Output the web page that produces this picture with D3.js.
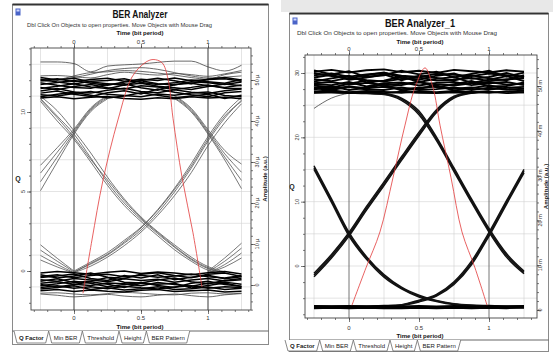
<!DOCTYPE html>
<html><head><meta charset="utf-8">
<script src="https://cdn.jsdelivr.net/npm/d3@7"></script>
<style>body{margin:0;background:#fff;}svg{display:block;font-family:"Liberation Sans",Arial,sans-serif;}</style>
</head><body><svg id="c" width="553" height="355"></svg>
<script>
// ---------------- DATA ----------------
const timeGrid = [-0.25,-0.125,0,0.125,0.25,0.375,0.5,0.625,0.75,0.875,1,1.125,1.25];
const timeTicks = [0,0.5,1];
const timeTickLabels = ["0","0.5","1"];
const tabNames = ["Q Factor","Min BER","Threshold","Height","BER Pattern"];
const titleLeft = "BER Analyzer";
const titleRight = "BER Analyzer_1";
const hintText = "Dbl Click On Objects to open properties.  Move Objects with Mouse Drag";
const timeTitle = "Time (bit period)";
const ampTitle = "Amplitude (a.u.)";
const ampTicks = [0,10,20,30,40,50];
const ampTickLabelsLeft = ["0","10 \u00b5","20 \u00b5","30 \u00b5","40 \u00b5","50 \u00b5"];
const ampTickLabelsRight = ["0","10 m","20 m","30 m","40 m","50 m"];
const qTicksLeft = [0,5,10];
const qTicksRight = [0,10,20,30];

// Left analyzer: "one" rail traces (amplitude, µ a.u.)
const leftTop1 = [49.8,50.3,49.6,50.1,50.4,49.7,50.2,49.9,50.5,49.8,50.1,50.3,49.7];
const leftTop2 = [48.9,49.4,49.9,49.2,48.7,49.5,49.8,49.1,48.8,49.6,49.3,48.9,49.5];
const leftTop3 = [48.2,47.6,48.4,48.9,48.1,47.8,48.6,48.3,47.7,48.2,48.8,48.0,47.9];
const leftTop4 = [47.3,47.9,47.1,46.8,47.5,48.0,47.2,46.9,47.6,47.0,46.7,47.4,47.8];
const leftTop5 = [46.4,46.1,46.7,47.2,46.5,46.2,45.9,46.6,46.3,46.8,47.1,46.2,45.9];
const leftTop6 = [45.6,45.9,45.4,45.8,46.0,45.5,45.3,45.7,45.4,45.9,45.6,45.8,45.4];
const leftTop7 = [50.2,49.5,49.0,49.7,49.9,50.3,49.4,48.9,49.3,50.0,49.6,49.2,50.1];
const leftTop8 = [47.9,48.5,49.1,48.3,47.9,48.8,49.2,48.5,48.1,47.7,48.4,49.0,48.6];
const leftTop9 = [46.8,47.3,46.5,46.0,46.9,47.4,46.6,47.8,47.0,46.4,45.9,46.9,47.2];
const leftTop10 = [49.3,48.7,48.2,48.0,48.9,49.1,48.1,47.5,48.9,49.2,48.6,48.2,48.8];
const leftTop11 = [45.9,46.5,47.0,46.3,45.6,46.1,46.9,46.3,45.7,46.1,46.5,45.5,46.3];
const leftTop12 = [50.6,50.0,50.4,49.5,49.1,48.7,49.9,50.4,49.8,49.1,50.2,50.6,50.0];
// Left: traces above the "one" rail
const leftUpper1 = [54.4,54.4,54.0,52.0,53.4,53.7,53.9,54.3,54.6,54.6,53.2,52.2,53.6];
const leftUpper2 = [50.0,50.2,50.6,51.4,52.3,52.8,53.0,52.6,51.8,51.0,50.5,50.7,51.0];
const leftUpper3 = [49.5,50.0,51.0,51.8,52.0,52.3,52.1,51.7,51.2,50.6,50.2,51.3,51.9];
const leftUpper4 = [51.0,51.1,50.8,50.5,51.3,51.9,51.5,51.2,51.6,51.3,50.9,51.5,52.3];
// Left: "zero" rail traces
const leftBot1 = [2.9,3.3,3.0,2.6,3.1,3.4,2.8,3.2,2.9,2.5,3.0,3.3,2.7];
const leftBot2 = [2.1,2.5,1.8,2.3,2.6,2.0,2.4,1.9,2.2,2.7,2.0,1.7,2.3];
const leftBot3 = [1.3,0.9,1.6,1.2,0.8,1.5,1.1,1.4,0.7,1.2,1.6,1.0,1.3];
const leftBot4 = [0.4,0.8,0.2,-0.1,0.5,0.3,-0.2,0.6,0.1,-0.3,0.4,0.7,0.2];
const leftBot5 = [-0.6,-0.2,-0.8,-0.4,-0.9,-0.3,-0.7,-1.0,-0.5,-0.2,-0.8,-0.4,-0.6];
const leftBot6 = [-1.4,-1.1,-1.6,-1.2,-1.5,-1.7,-1.3,-1.1,-1.6,-1.4,-1.2,-1.7,-1.5];
const leftBot7 = [2.5,1.7,2.2,2.9,1.9,1.6,2.6,3.0,2.3,1.8,2.6,2.9,2.1];
const leftBot8 = [0.9,1.5,0.6,0.9,1.8,0.7,0.5,1.2,1.7,0.8,0.3,1.1,1.6];
const leftBot9 = [-0.2,0.3,0.9,0.4,-0.4,0.1,0.6,-0.1,-0.6,0.4,0.9,0.1,-0.3];
const leftBot10 = [-1.0,-0.6,-0.2,-1.1,-0.7,-1.2,-0.9,-0.4,-1.1,-0.9,-0.5,-1.1,-0.8];
const leftBot11 = [1.8,2.2,2.7,1.6,1.1,2.3,1.7,2.5,1.3,1.9,2.4,1.5,2.0];
const leftBot12 = [0.1,-0.5,0.1,0.8,0.2,-0.6,0.4,0.2,0.4,-0.7,-0.1,0.5,-0.4];
const leftLower1 = [-2.2,-2.5,-2.9,-2.6,-2.3,-2.7,-2.9,-2.5,-2.2,-2.6,-2.9,-2.4,-2.1];
const leftLower2 = [-2.0,-1.9,-2.2,-2.4,-2.1,-1.8,-2.0,-2.3,-2.4,-2.0,-1.9,-2.2,-2.0];
// Left: transitions (null = not drawn)
const leftFallA = [45.5,41.2,36.8,31.0,25.0,20.0,16.0,12.5,9.2,6.2,4.0,3.0,null];
const leftFallB = [44.8,40.0,35.5,30.0,24.3,19.4,15.5,12.0,8.6,5.8,3.6,2.8,null];
const leftFallC = [46.0,42.5,37.6,32.2,26.3,21.0,16.6,13.0,9.8,6.8,4.5,3.2,null];
const leftFallD = [45.2,40.8,36.0,30.6,25.6,20.6,16.3,12.8,9.4,6.4,4.2,3.0,null];
const leftRiseA = [null,null,3.2,5.1,7.3,10.2,13.4,17.6,22.7,28.5,35.1,40.7,45.1];
const leftRiseB = [null,null,3.0,4.6,6.8,9.6,12.9,17.0,21.8,27.4,34.0,39.6,44.2];
const leftRiseC = [null,null,3.4,5.6,7.9,10.9,14.1,18.4,23.6,29.6,36.2,41.8,45.8];
const leftRiseD = [null,null,3.1,5.3,7.5,10.5,13.9,18.2,23.3,29.0,35.6,41.2,44.8];
const leftEarlyRiseA = [23.0,30.0,36.8,42.3,45.4,null,null,null,null,null,null,null,null];
const leftEarlyRiseB = [25.2,31.2,37.2,42.6,45.7,null,null,null,null,null,null,null,null];
const leftEarlyRiseC = [27.3,32.4,37.6,42.9,46.0,null,null,null,null,null,null,null,null];
const leftEarlyRiseD = [29.2,33.5,38.0,43.2,46.2,null,null,null,null,null,null,null,null];
const leftLateFallA = [null,null,null,null,null,null,null,null,45.5,42.2,36.8,30.5,23.5];
const leftLateFallB = [null,null,null,null,null,null,null,null,45.7,42.5,37.1,31.2,25.5];
const leftLateFallC = [null,null,null,null,null,null,null,null,46.0,42.8,37.5,32.0,27.5];
const leftLateFallD = [null,null,null,null,null,null,null,null,46.2,43.1,37.9,32.8,29.5];
const leftTailFallA = [9.8,6.5,3.4,null,null,null,null,null,null,null,null,null,null];
const leftTailFallB = [8.5,5.8,3.2,null,null,null,null,null,null,null,null,null,null];
const leftTailFallC = [7.2,5.0,3.0,null,null,null,null,null,null,null,null,null,null];
const leftTailFallD = [6.1,4.4,2.9,null,null,null,null,null,null,null,null,null,null];
const leftTailRiseA = [null,null,null,null,null,null,null,null,null,null,3.4,6.6,10.2];
const leftTailRiseB = [null,null,null,null,null,null,null,null,null,null,3.2,5.8,9.0];
const leftTailRiseC = [null,null,null,null,null,null,null,null,null,null,3.0,5.0,7.8];
const leftTailRiseD = [null,null,null,null,null,null,null,null,null,null,2.9,4.4,6.6];
// Left Q factor curve
const leftQTime = [0.067,0.134,0.216,0.328,0.433,0.53,0.59,0.657,0.701,0.739,0.806,0.888,0.955];
const leftQValue = [-1.4,1.95,5.7,9.5,12.2,13.1,13.3,13.1,12.1,9.6,5.9,2.4,-1.0];

// Right analyzer: "one" rail (m a.u.)
const rightTop1 = [53.2,53.6,53.0,53.5,53.7,53.1,53.4,52.9,53.6,53.3,53.0,53.5,53.2];
const rightTop2 = [52.4,52.8,52.1,52.6,52.9,52.3,52.0,52.7,52.5,52.2,52.8,52.4,52.0];
const rightTop3 = [51.5,51.1,51.8,51.3,51.0,51.6,51.9,51.2,51.4,51.8,51.1,51.5,51.7];
const rightTop4 = [50.6,50.9,50.3,50.7,50.2,50.5,50.8,50.4,50.1,50.6,50.9,50.3,50.5];
const rightTop5 = [49.7,49.4,49.9,49.5,49.8,49.3,49.6,49.9,49.4,49.7,49.2,49.6,49.8];
const rightTop6 = [48.8,49.0,48.6,48.9,48.7,48.5,48.8,48.6,48.9,48.7,48.5,48.8,48.6];
const rightTop7 = [52.9,52.2,51.7,52.4,53.0,51.8,51.4,52.3,52.8,51.6,52.0,52.9,51.9];
const rightTop8 = [51.0,51.7,52.3,50.8,51.2,52.1,50.9,51.6,52.0,50.7,51.4,52.2,51.1];
const rightTop9 = [50.1,49.6,50.5,51.2,49.8,50.2,51.0,49.7,50.4,51.1,49.9,50.0,50.8];
const rightTop10 = [49.2,50.0,49.1,49.6,50.3,49.0,49.4,50.1,49.0,49.5,50.2,49.3,49.0];
const rightTop11 = [53.5,52.6,53.3,52.0,52.4,53.4,52.6,53.2,51.9,52.7,53.4,52.1,53.0];
const rightTop12 = [48.5,48.7,48.4,48.6,48.4,48.7,48.5,48.4,48.6,48.5,48.7,48.4,48.6];
const rightTop13 = [51.9,52.5,51.4,51.9,52.6,51.3,52.3,51.8,51.2,52.4,51.7,51.3,52.4];
const rightTop14 = [50.4,50.2,50.9,49.9,50.6,50.8,50.1,50.7,50.9,50.2,50.6,50.9,50.2];
const rightTop15 = [49.5,49.1,49.8,49.2,49.1,49.7,49.1,49.3,49.7,49.1,49.6,49.2,49.4];
const rightBot1 = [0.9,0.8,0.9,0.8,0.9,0.8,0.9,0.8,0.9,0.8,0.9,0.8,0.9];
const rightBot2 = [0.6,0.7,0.6,0.6,0.7,0.6,0.7,0.6,0.6,0.7,0.6,0.7,0.6];
const rightBot3 = [0.4,0.5,0.4,0.5,0.4,0.4,0.5,0.4,0.5,0.4,0.5,0.4,0.5];
// Right: transitions
const rightRiseEarlyA = [7.8,12.0,16.9,22.7,28.2,33.8,39.3,44.4,47.5,48.5,48.8,null,null];
const rightRiseEarlyB = [7.4,11.6,16.5,22.3,27.8,33.4,38.9,44.1,47.3,48.4,48.7,null,null];
const rightRiseEarlyC = [8.2,12.4,17.3,23.1,28.6,34.2,39.7,44.7,47.7,48.6,48.9,null,null];
const rightFallLateA = [48.6,48.6,48.5,48.4,48.2,47.1,44.0,38.2,31.3,24.4,17.8,12.2,8.4];
const rightFallLateB = [48.5,48.5,48.4,48.3,48.1,46.8,43.6,37.8,30.9,24.0,17.4,11.8,8.1];
const rightFallLateC = [48.7,48.7,48.6,48.5,48.3,47.3,44.4,38.6,31.7,24.8,18.2,12.6,8.7];
const rightFallEarlyA = [31.8,24.4,16.9,11.6,7.6,4.9,3.1,2.0,1.3,1.0,0.9,0.8,0.8];
const rightFallEarlyB = [31.4,24.0,16.5,11.3,7.3,4.7,2.9,1.9,1.2,0.9,0.8,0.7,0.7];
const rightFallEarlyC = [32.2,24.8,17.3,11.9,7.9,5.1,3.3,2.1,1.4,1.1,1.0,0.9,0.9];
const rightRiseLateA = [0.8,0.8,0.8,0.8,0.9,1.1,2.0,3.3,6.0,10.5,16.9,24.0,31.0];
const rightRiseLateB = [0.7,0.7,0.7,0.7,0.8,1.0,1.8,3.1,5.7,10.1,16.5,23.6,30.6];
const rightRiseLateC = [0.9,0.9,0.9,0.9,1.0,1.2,2.2,3.5,6.3,10.9,17.3,24.4,31.4];
const rightSettle = [45.0,47.3,48.4,null,null,null,null,null,null,null,null,null,null];
// Right Q factor curve
const rightQTime = [0.021,0.121,0.221,0.314,0.4,0.471,0.543,0.6,0.65,0.729,0.807,0.9,0.986];
const rightQValue = [-6.1,-0.3,5.3,13.7,21.9,27.7,30.8,27.7,21.9,13.7,5.3,-0.3,-6.1];

// ---------------- DRAWING ----------------
const svg = d3.select("#c");
svg.append("rect").attr("width",553).attr("height",355).attr("fill","#fff");
svg.append("rect").attr("x",281).attr("y",0).attr("width",272).attr("height",12).attr("fill","#e8e8e8");

const leftPanel = {
  id:"L", fx:12.5, fy:4.5, fw:256, fh:340, px0:31, px1:251, py0:48, py1:310,
  t0x:74, t1x:208, a0y:285, a50y:80, q0y:271, qTopY:112, qTicks:qTicksLeft, qMinorStep:1, qGridStart:-1,
  title:titleLeft, titleW:55, cx:140, titleY:18, subX:27, subW:185, subY:27, timeTopY:35, tickTopY:44,
  tickBotY:320, timeBotY:329, tabTop:331, tabBot:343, tabX0:15,
  qLabelX:18, qTickLabelX:25, aTickLabelX:259, aTitleX:267, ampLabels:ampTickLabelsLeft,
  rails:[leftTop1,leftTop2,leftTop3,leftTop4,leftTop5,leftTop6,leftTop7,leftTop8,leftTop9,leftTop10,leftTop11,leftTop12,
         leftBot1,leftBot2,leftBot3,leftBot4,leftBot5,leftBot6,leftBot7,leftBot8,leftBot9,leftBot10,leftBot11,leftBot12],
  railW:1.5,
  faint:[leftUpper1,leftUpper2,leftUpper3,leftUpper4,leftLower1,leftLower2],
  trans:[leftFallA,leftFallB,leftFallC,leftFallD,leftRiseA,leftRiseB,leftRiseC,leftRiseD,
         leftEarlyRiseA,leftEarlyRiseB,leftEarlyRiseC,leftEarlyRiseD,leftLateFallA,leftLateFallB,leftLateFallC,leftLateFallD,
         leftTailFallA,leftTailFallB,leftTailFallC,leftTailFallD,leftTailRiseA,leftTailRiseB,leftTailRiseC,leftTailRiseD],
  transW:0.8, transColor:"#555",
  qTime:leftQTime, qVal:leftQValue, markerColor:"#222"
};
const rightPanel = {
  id:"R", fx:289.5, fy:13.5, fw:259, fh:338, px0:305, px1:537, py0:55, py1:318,
  t0x:349, t1x:489, a0y:310, a50y:86, q0y:266, qTopY:73, qTicks:qTicksRight, qMinorStep:2.5, qGridStart:-5,
  title:titleRight, titleW:70, cx:420, titleY:27, subX:297, subW:200, subY:35, timeTopY:44, tickTopY:51,
  tickBotY:330, timeBotY:338, tabTop:340, tabBot:351, tabX0:286,
  qLabelX:292, qTickLabelX:299, aTickLabelX:542, aTitleX:548, ampLabels:ampTickLabelsRight,
  rails:[rightTop1,rightTop2,rightTop3,rightTop4,rightTop5,rightTop6,rightTop7,rightTop8,rightTop9,rightTop10,rightTop11,rightTop12,
         rightTop13,rightTop14,rightTop15,rightBot1,rightBot2,rightBot3],
  railW:1.9,
  faint:[rightSettle],
  trans:[rightRiseEarlyA,rightRiseEarlyB,rightRiseEarlyC,rightFallLateA,rightFallLateB,rightFallLateC,
         rightFallEarlyA,rightFallEarlyB,rightFallEarlyC,rightRiseLateA,rightRiseLateB,rightRiseLateC],
  transW:1.5, transColor:"#111",
  qTime:rightQTime, qVal:rightQValue, markerColor:"#666"
};

function drawPanel(p){
  const g = svg.append("g");
  g.append("rect").attr("x",p.fx).attr("y",p.fy).attr("width",p.fw).attr("height",p.fh)
    .attr("fill","#fff").attr("stroke","#8a8a8a").attr("stroke-width",1);
  g.append("line").attr("x1",p.fx).attr("x2",p.fx+p.fw).attr("y1",p.fy).attr("y2",p.fy)
    .attr("stroke","#333").attr("stroke-width",2);
  g.append("rect").attr("x",p.fx+3).attr("y",p.fy+4).attr("width",5).attr("height",7).attr("fill","#4a64c8");
  g.append("rect").attr("x",p.fx+4).attr("y",p.fy+5).attr("width",3).attr("height",2).attr("fill","#cfd8ff");

  g.append("text").attr("x",p.cx).attr("y",p.titleY).attr("text-anchor","middle")
    .attr("font-size",10.5).attr("font-weight","bold").attr("fill","#111")
    .attr("textLength",p.titleW).attr("lengthAdjust","spacingAndGlyphs").text(p.title);
  g.append("text").attr("x",p.subX).attr("y",p.subY).attr("font-size",5.6).attr("fill","#333")
    .attr("textLength",p.subW).attr("lengthAdjust","spacingAndGlyphs").text(hintText);
  g.append("text").attr("x",p.cx).attr("y",p.timeTopY).attr("text-anchor","middle")
    .attr("font-size",6).attr("font-weight","bold").attr("fill","#111").text(timeTitle);
  g.append("text").attr("x",p.cx).attr("y",p.timeBotY).attr("text-anchor","middle")
    .attr("font-size",6).attr("font-weight","bold").attr("fill","#111").text(timeTitle);

  const x = d3.scaleLinear().domain([0,1]).range([p.t0x,p.t1x]);
  const yA = d3.scaleLinear().domain([0,50]).range([p.a0y,p.a50y]);
  const qLo = p.qTicks[0], qHi = p.qTicks[p.qTicks.length-1];
  const yQ = d3.scaleLinear().domain([qLo,qHi]).range([p.q0y,p.qTopY]);
  const tLo = x.invert(p.px0), tHi = x.invert(p.px1);
  const qBot = yQ.invert(p.py1), qTop = yQ.invert(p.py0);
  const aBot = yA.invert(p.py1), aTop = yA.invert(p.py0);

  const clipId = "clip"+p.id;
  g.append("clipPath").attr("id",clipId).append("rect")
    .attr("x",p.px0).attr("y",p.py0).attr("width",p.px1-p.px0).attr("height",p.py1-p.py0);

  const grid = g.append("g").attr("stroke","#d2d2d2").attr("stroke-width",0.6);
  d3.range(-0.25,1.26,0.25).filter(t=>Math.abs(t)>1e-6 && Math.abs(t-1)>1e-6).forEach(t=>{
    grid.append("line").attr("x1",x(t)).attr("x2",x(t)).attr("y1",p.py0).attr("y2",p.py1);
  });
  const qStep = p.qMinorStep*2;
  d3.range(p.qGridStart, qTop, qStep).filter(q=>q>qBot).forEach(q=>{
    grid.append("line").attr("x1",p.px0).attr("x2",p.px1).attr("y1",yQ(q)).attr("y2",yQ(q));
  });
  [0,1].forEach(t=>{
    g.append("line").attr("x1",x(t)).attr("x2",x(t)).attr("y1",p.py0).attr("y2",p.py1)
      .attr("stroke",p.markerColor).attr("stroke-width",0.9);
  });

  const plot = g.append("g").attr("clip-path",`url(#${clipId})`);
  const lineLin = d3.line().defined(d=>d[1]!==null).x(d=>x(d[0])).y(d=>yA(d[1]));
  const lineSm = d3.line().defined(d=>d[1]!==null).x(d=>x(d[0])).y(d=>yA(d[1])).curve(d3.curveMonotoneX);
  const pts = arr => timeGrid.map((t,i)=>[t,arr[i]]);

  p.faint.forEach(arr=>plot.append("path").attr("d",lineSm(pts(arr))).attr("fill","none")
    .attr("stroke","#444").attr("stroke-width",0.8));
  p.trans.forEach(arr=>plot.append("path").attr("d",lineSm(pts(arr))).attr("fill","none")
    .attr("stroke",p.transColor).attr("stroke-width",p.transW));
  p.rails.forEach(arr=>plot.append("path").attr("d",lineLin(pts(arr))).attr("fill","none")
    .attr("stroke","#000").attr("stroke-width",p.railW));

  const qLine = d3.line().x(d=>x(d[0])).y(d=>yQ(d[1])).curve(d3.curveCatmullRom);
  plot.append("path").attr("d",qLine(p.qTime.map((t,i)=>[t,p.qVal[i]]))).attr("fill","none")
    .attr("stroke","#e23a3a").attr("stroke-width",0.8);

  g.append("rect").attr("x",p.px0).attr("y",p.py0).attr("width",p.px1-p.px0).attr("height",p.py1-p.py0)
    .attr("fill","none").attr("stroke","#444").attr("stroke-width",0.9);

  const styleAxis = sel => { sel.select(".domain").remove(); sel.selectAll("line").attr("stroke","#444").attr("stroke-width",0.7); sel.selectAll("text").remove(); };
  const minorT = d3.range(-0.3,1.31,0.1).filter(t=>t>=tLo && t<=tHi);
  g.append("g").attr("transform",`translate(0,${p.py0})`).call(d3.axisTop(x).tickValues(minorT).tickSize(2)).call(styleAxis);
  g.append("g").attr("transform",`translate(0,${p.py1})`).call(d3.axisBottom(x).tickValues(minorT).tickSize(2)).call(styleAxis);
  g.append("g").attr("transform",`translate(0,${p.py0})`).call(d3.axisTop(x).tickValues(timeTicks).tickSize(4)).call(styleAxis);
  g.append("g").attr("transform",`translate(0,${p.py1})`).call(d3.axisBottom(x).tickValues(timeTicks).tickSize(4)).call(styleAxis);
  timeTicks.forEach((t,i)=>{
    g.append("text").attr("x",x(t)).attr("y",p.tickTopY).attr("text-anchor","middle").attr("font-size",6).attr("fill","#333").text(timeTickLabels[i]);
    g.append("text").attr("x",x(t)).attr("y",p.tickBotY).attr("text-anchor","middle").attr("font-size",6).attr("fill","#333").text(timeTickLabels[i]);
  });
  const minorQ = d3.range(Math.ceil(qBot/p.qMinorStep)*p.qMinorStep, qTop, p.qMinorStep);
  g.append("g").attr("transform",`translate(${p.px0},0)`).call(d3.axisLeft(yQ).tickValues(minorQ).tickSize(2)).call(styleAxis);
  g.append("g").attr("transform",`translate(${p.px0},0)`).call(d3.axisLeft(yQ).tickValues(p.qTicks).tickSize(4)).call(styleAxis);
  p.qTicks.forEach(q=>{
    g.append("text").attr("transform",`translate(${p.qTickLabelX},${yQ(q)}) rotate(-90)`).attr("text-anchor","middle")
      .attr("font-size",5.5).attr("fill","#333").text(String(q));
  });
  g.append("text").attr("x",p.qLabelX).attr("y",(p.py0+p.py1)/2+2).attr("text-anchor","middle")
    .attr("font-size",7).attr("font-weight","bold").attr("fill","#222").text("Q");
  const minorA = d3.range(Math.ceil(aBot/2)*2, aTop, 2);
  g.append("g").attr("transform",`translate(${p.px1},0)`).call(d3.axisRight(yA).tickValues(minorA).tickSize(2)).call(styleAxis);
  g.append("g").attr("transform",`translate(${p.px1},0)`).call(d3.axisRight(yA).tickValues(ampTicks).tickSize(4)).call(styleAxis);
  ampTicks.forEach((a,i)=>{
    g.append("text").attr("transform",`translate(${p.aTickLabelX},${yA(a)}) rotate(-90)`).attr("text-anchor","middle")
      .attr("font-size",5.5).attr("fill","#333").text(p.ampLabels[i]);
  });
  g.append("text").attr("transform",`translate(${p.aTitleX},${(p.py0+p.py1)/2}) rotate(-90)`).attr("text-anchor","middle")
    .attr("font-size",6).attr("font-weight","bold").attr("fill","#222").text(ampTitle);

  g.append("line").attr("x1",p.fx).attr("x2",p.fx+p.fw).attr("y1",p.tabTop).attr("y2",p.tabTop).attr("stroke","#555").attr("stroke-width",0.9);
  let cx = p.tabX0;
  const tg = g.append("g");
  tabNames.forEach((name,i)=>{
    const t = tg.append("text").attr("x",cx+4).attr("y",p.tabBot-3).attr("font-size",6)
      .attr("font-weight",i===0?"bold":"normal").attr("fill","#222").text(name);
    const w = t.node().getComputedTextLength();
    const s = cx, e = cx+w+8;
    tg.insert("path","text").attr("d",`M${s-1},${p.tabTop} L${s+2},${p.tabBot} L${e-2},${p.tabBot} L${e+1},${p.tabTop}`)
      .attr("fill","#fff").attr("stroke","#555").attr("stroke-width",0.7);
    cx = e + 2;
  });
}
drawPanel(leftPanel);
drawPanel(rightPanel);
</script>
</body></html>
